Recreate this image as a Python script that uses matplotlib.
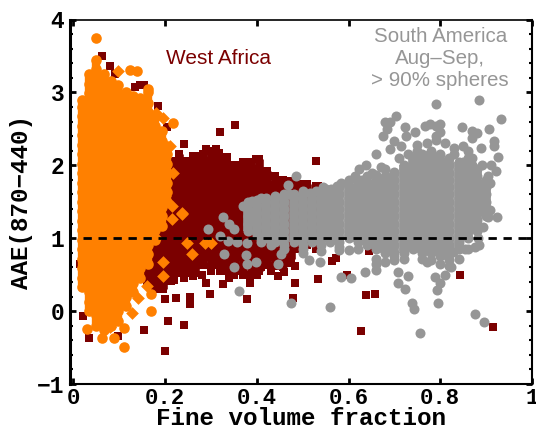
import matplotlib
matplotlib.use('Agg')
import numpy as np
import matplotlib.pyplot as plt
from matplotlib.ticker import MultipleLocator, FixedLocator

MAROON = '#7b0000'
ORANGE = '#ff8000'
GRAY = '#969696'

# maroon squares, solid part, one list per column
maroon_cols = [0.16, 0.178, 0.195, 0.212, 0.23, 0.248, 0.265, 0.282, 0.30, 0.318, 0.335,
               0.352, 0.37, 0.388, 0.405, 0.422, 0.44, 0.458, 0.475, 0.492, 0.51, 0.528]
maroon_rows = [
    [0.41, 0.52, 0.63, 0.74, 0.85, 0.96, 1.07, 1.18],
    [0.3, 0.41, 0.52, 0.63, 0.74, 0.85, 0.96, 1.07, 1.18, 1.29, 1.4, 1.51],
    [0.3, 0.41, 0.52, 0.63, 0.74, 0.85, 0.96, 1.07, 1.18, 1.29, 1.4, 1.51, 1.62, 1.73, 1.84, 1.95, 2.06],
    [0.41, 0.52, 0.63, 0.74, 0.85, 0.96, 1.07, 1.18, 1.29, 1.4, 1.51, 1.62, 1.73, 1.84, 1.95, 2.06],
    [0.52, 0.63, 0.74, 0.85, 0.96, 1.07, 1.18, 1.29, 1.4, 1.51, 1.62, 1.73, 1.84, 1.95, 2.04, 2.15],
    [0.52, 0.63, 0.74, 0.85, 0.96, 1.07, 1.18, 1.29, 1.4, 1.51, 1.62, 1.73, 1.84, 1.95, 2.06],
    [0.52, 0.63, 0.74, 0.85, 0.96, 1.07, 1.18, 1.29, 1.4, 1.51, 1.62, 1.73, 1.84, 1.95, 2.06, 2.13],
    [0.63, 0.74, 0.85, 0.96, 1.07, 1.18, 1.29, 1.4, 1.51, 1.62, 1.73, 1.84, 1.95, 2.06, 2.16],
    [0.6, 0.74, 0.85, 0.96, 1.07, 1.18, 1.29, 1.4, 1.51, 1.62, 1.73, 1.84, 1.95, 2.06, 2.2],
    [0.63, 0.74, 0.85, 0.96, 1.07, 1.18, 1.29, 1.4, 1.51, 1.62, 1.73, 1.84, 1.95, 2.06, 2.17],
    [0.55, 0.63, 0.74, 0.85, 0.96, 1.07, 1.18, 1.29, 1.4, 1.51, 1.62, 1.73, 1.84, 1.95, 2.06],
    [0.55, 0.63, 0.74, 0.85, 0.96, 1.07, 1.18, 1.29, 1.4, 1.51, 1.62, 1.73, 1.84, 1.95, 2.0],
    [0.6, 0.74, 0.85, 0.96, 1.07, 1.18, 1.29, 1.4, 1.51, 1.62, 1.73, 1.84, 1.95, 2.05],
    [0.5, 0.63, 0.74, 0.85, 0.96, 1.07, 1.18, 1.29, 1.4, 1.51, 1.62, 1.73, 1.84, 1.95, 2.05],
    [0.55, 0.63, 0.74, 0.85, 0.96, 1.07, 1.18, 1.51, 1.62, 1.73, 1.84, 1.95, 2.08],
    [0.63, 0.74, 0.85, 0.96, 1.07, 1.51, 1.62, 1.73, 1.84, 1.92],
    [0.62, 0.74, 0.85, 0.96, 1.55, 1.62, 1.73, 1.85],
    [0.6, 0.74, 0.85, 0.96, 1.55, 1.62, 1.73, 1.8],
    [0.72, 0.85, 0.96, 1.55, 1.65, 1.78],
    [0.85, 0.96, 1.55, 1.65, 1.75],
    [0.9, 1.02, 1.55, 1.65, 1.74],
    [0.85, 1.0, 1.55, 1.72],
]
# scattered maroon squares
maroon_x = [0.24, 0.29, 0.31, 0.32, 0.353, 0.335, 0.398, 0.26, 0.53, 0.533,
            0.2, 0.223, 0.254, 0.254, 0.298, 0.29, 0.207, 0.242, 0.154, 0.2,
            0.327, 0.378, 0.385, 0.4, 0.26, 0.3, 0.35, 0.446, 0.483, 0.479,
            0.533, 0.483, 0.46, 0.563, 0.573, 0.597, 0.638, 0.657, 0.626, 0.843,
            0.915, 0.645, 0.034, 0.02, 0.097, 0.014, 0.062, 0.08, 0.09, 0.153,
            0.185, 0.203, 0.135, 0.145, 0.43, 0.47, 0.505,
            0.22, 0.24, 0.28, 0.32, 0.34, 0.37, 0.39, 0.41, 0.43, 0.45, 0.47, 0.33]
maroon_y = [2.29, 2.23, 2.22, 2.45, 2.55, 2.12, 2.09, 2.13, 2.06, 1.72,
            0.16, 0.18, 0.2, 0.1, 0.23, 0.38, -0.13, -0.19, -0.26, -0.55,
            0.37, 0.16, 0.39, 0.5, 0.48, 0.55, 0.5, 0.48, 0.39, 0.18,
            0.44, 0.62, 0.54, 0.69, 0.73, 0.5, 0.22, 0.24, -0.27, 0.49,
            -0.22, 0.82, -0.37, -0.07, -0.34, 0.64, 3.5, 3.36, 3.25, 3.1,
            2.81, 2.52, 3.08, 3.1, 1.85, 1.78, 1.74,
            0.42, 0.45, 0.5, 0.55, 0.45, 0.5, 0.55, 0.6, 0.55, 0.62, 0.66, 0.62]

# orange circles, solid part, one list per column
orange_cols = [0.018, 0.034, 0.05, 0.066, 0.082, 0.098, 0.114, 0.13, 0.146, 0.162, 0.178, 0.194, 0.205]
orange_rows = [
    [0.33, 0.46, 0.59, 0.72, 0.85, 0.98, 1.11, 1.24, 1.37, 1.5, 1.63, 1.76, 1.89, 2.02, 2.15, 2.28, 2.41, 2.54, 2.67, 2.8, 2.9],
    [0.0, 0.13, 0.26, 0.39, 0.52, 0.65, 0.78, 0.91, 1.04, 1.17, 1.3, 1.43, 1.56, 1.69, 1.82, 1.95, 2.08, 2.21, 2.34, 2.47, 2.6, 2.73, 2.86, 2.99, 3.12, 3.25],
    [-0.2, -0.06, 0.07, 0.2, 0.33, 0.46, 0.59, 0.72, 0.85, 0.98, 1.11, 1.24, 1.37, 1.5, 1.63, 1.76, 1.89, 2.02, 2.15, 2.28, 2.41, 2.54, 2.67, 2.8, 2.93, 3.06, 3.19, 3.32, 3.45],
    [-0.26, -0.13, 0.0, 0.13, 0.26, 0.39, 0.52, 0.65, 0.78, 0.91, 1.04, 1.17, 1.3, 1.43, 1.56, 1.69, 1.82, 1.95, 2.08, 2.21, 2.34, 2.47, 2.6, 2.73, 2.86, 2.99, 3.12, 3.25],
    [-0.2, -0.06, 0.07, 0.2, 0.33, 0.46, 0.59, 0.72, 0.85, 0.98, 1.11, 1.24, 1.37, 1.5, 1.63, 1.76, 1.89, 2.02, 2.15, 2.28, 2.41, 2.54, 2.67, 2.8, 2.93, 3.06, 3.15],
    [-0.13, 0.0, 0.13, 0.26, 0.39, 0.52, 0.65, 0.78, 0.91, 1.04, 1.17, 1.3, 1.43, 1.56, 1.69, 1.82, 1.95, 2.08, 2.21, 2.34, 2.47, 2.6, 2.73, 2.86, 2.99, 3.1],
    [0.07, 0.2, 0.33, 0.46, 0.59, 0.72, 0.85, 0.98, 1.11, 1.24, 1.37, 1.5, 1.63, 1.76, 1.89, 2.02, 2.15, 2.28, 2.41, 2.54, 2.67, 2.8, 2.93, 3.0],
    [0.26, 0.39, 0.52, 0.65, 0.78, 0.91, 1.04, 1.17, 1.3, 1.43, 1.56, 1.69, 1.82, 1.95, 2.08, 2.21, 2.34, 2.47, 2.6, 2.73, 2.86, 2.95],
    [0.46, 0.59, 0.72, 0.85, 0.98, 1.11, 1.24, 1.37, 1.5, 1.63, 1.76, 1.89, 2.02, 2.15, 2.28, 2.41, 2.54, 2.67, 2.8, 2.93],
    [0.65, 0.78, 0.91, 1.04, 1.17, 1.3, 1.43, 1.56, 1.69, 1.82, 1.95, 2.08, 2.21, 2.34, 2.47, 2.6, 2.73, 2.86, 3.0],
    [0.98, 1.11, 1.24, 1.37, 1.5, 1.63, 1.76, 1.89, 2.02, 2.15, 2.28, 2.41, 2.54, 2.66],
    [1.17, 1.3, 1.43, 1.56, 1.69, 1.82, 1.95, 2.08, 2.21, 2.34, 2.47],
    [1.5, 1.63, 1.76, 1.89, 2.02, 2.15, 2.26],
]
# scattered orange circles and diamonds
orange_circ_x = [0.05, 0.123, 0.138, 0.163, 0.217, 0.17, 0.11, 0.088, 0.062, 0.03, 0.11, 0.17]
orange_circ_y = [3.75, 3.31, 3.29, 3.04, 2.58, 0.0, -0.49, -0.37, -0.37, -0.25, -0.23, 0.23]
orange_dia_x = [0.097, 0.18, 0.195, 0.21, 0.217, 0.2, 0.215, 0.236, 0.215, 0.237,
                0.18, 0.247, 0.258, 0.287, 0.30, 0.195, 0.195, 0.16, 0.14, 0.127, 0.08]
orange_dia_y = [3.29, 2.72, 2.65, 2.26, 1.9, 1.58, 1.44, 1.35, 1.26, 1.33,
                1.0, 0.93, 0.78, 0.94, 0.94, 0.68, 0.48, 0.35, 0.18, -0.02, -0.22]

# gray circles, solid part, one list per column
gray_cols = [0.38, 0.40, 0.42, 0.44, 0.46, 0.48, 0.50, 0.52, 0.54, 0.56, 0.58, 0.60, 0.62, 0.64,
             0.66, 0.68, 0.70, 0.72, 0.74, 0.76, 0.78, 0.80, 0.82, 0.84, 0.86, 0.88, 0.90]
gray_rows = [
    [1.1, 1.2, 1.3, 1.4, 1.5],
    [1.05, 1.15, 1.25, 1.35, 1.45, 1.52],
    [1.0, 1.1, 1.2, 1.3, 1.4, 1.5, 1.55],
    [0.95, 1.05, 1.15, 1.25, 1.35, 1.45, 1.55],
    [0.9, 1.0, 1.1, 1.2, 1.3, 1.4, 1.5, 1.6],
    [0.95, 1.05, 1.15, 1.25, 1.35, 1.45, 1.55, 1.6],
    [0.9, 1.0, 1.1, 1.2, 1.3, 1.4, 1.5, 1.6],
    [0.95, 1.05, 1.15, 1.25, 1.35, 1.45, 1.55],
    [0.9, 1.0, 1.1, 1.2, 1.3, 1.4, 1.5, 1.6],
    [0.95, 1.05, 1.15, 1.25, 1.35, 1.45, 1.55, 1.62],
    [0.95, 1.0, 1.1, 1.2, 1.3, 1.4, 1.5, 1.6, 1.7],
    [1.0, 1.05, 1.15, 1.25, 1.35, 1.45, 1.55, 1.65, 1.72],
    [0.95, 1.0, 1.1, 1.2, 1.3, 1.4, 1.5, 1.6, 1.7, 1.8],
    [0.9, 0.95, 1.05, 1.15, 1.25, 1.35, 1.45, 1.55, 1.65, 1.75, 1.85],
    [0.85, 0.9, 1.0, 1.1, 1.2, 1.3, 1.4, 1.5, 1.6, 1.7, 1.8],
    [0.8, 0.85, 0.95, 1.05, 1.15, 1.25, 1.35, 1.45, 1.55, 1.65, 1.75, 1.85],
    [0.75, 0.8, 0.9, 1.0, 1.1, 1.2, 1.3, 1.4, 1.5, 1.6, 1.7, 1.8, 1.9],
    [0.8, 0.85, 0.95, 1.05, 1.15, 1.25, 1.35, 1.45, 1.55, 1.65, 1.75, 1.85, 1.95, 2.0],
    [0.85, 0.9, 1.0, 1.1, 1.2, 1.3, 1.4, 1.5, 1.6, 1.7, 1.8, 1.9, 2.0, 2.1],
    [0.8, 0.85, 0.95, 1.05, 1.15, 1.25, 1.35, 1.45, 1.55, 1.65, 1.75, 1.85, 1.95, 2.05, 2.15],
    [0.8, 0.9, 1.0, 1.1, 1.2, 1.3, 1.4, 1.5, 1.6, 1.7, 1.8, 1.9, 2.0, 2.1, 2.2],
    [0.75, 0.85, 0.95, 1.05, 1.15, 1.25, 1.35, 1.45, 1.55, 1.65, 1.75, 1.85, 1.95, 2.05, 2.15],
    [0.7, 0.8, 0.9, 1.0, 1.1, 1.2, 1.3, 1.4, 1.5, 1.6, 1.7, 1.8, 1.9, 2.0, 2.1],
    [0.85, 0.95, 1.05, 1.15, 1.25, 1.35, 1.45, 1.55, 1.65, 1.75, 1.85, 1.95, 2.05],
    [1.0, 1.1, 1.2, 1.3, 1.4, 1.5, 1.6, 1.7, 1.8, 1.9, 2.0, 2.1],
    [1.1, 1.15, 1.25, 1.35, 1.45, 1.55, 1.65, 1.75, 1.85, 1.95],
    [1.3, 1.4, 1.5, 1.6, 1.7, 1.8],
]
# scattered gray circles
gray_x = [0.791, 0.884, 0.933, 0.704, 0.69, 0.68, 0.684, 0.675, 0.723, 0.725,
          0.745, 0.766, 0.777, 0.80, 0.79, 0.80, 0.848, 0.869, 0.88, 0.906,
          0.87, 0.917, 0.889, 0.85, 0.917, 0.926, 0.921, 0.908, 0.889, 0.908,
          0.699, 0.69, 0.714, 0.66, 0.638, 0.622, 0.67, 0.70, 0.66, 0.614,
          0.583, 0.562, 0.544, 0.485, 0.468, 0.516, 0.75, 0.79, 0.83, 0.87,
          0.293, 0.327, 0.32, 0.337, 0.328, 0.35, 0.361, 0.398, 0.378, 0.376,
          0.356, 0.378, 0.389, 0.34, 0.35, 0.395, 0.389, 0.37,
          0.453, 0.446, 0.475, 0.56, 0.538, 0.514, 0.583, 0.605, 0.636, 0.66,
          0.66, 0.708, 0.723, 0.73, 0.708, 0.738, 0.743, 0.755, 0.795, 0.793,
          0.799, 0.789, 0.875, 0.895, 0.828, 0.854, 0.875, 0.885, 0.883, 0.893,
          0.905, 0.923, 0.77, 0.81, 0.824, 0.6, 0.58, 0.5,
          0.71, 0.73, 0.75, 0.77, 0.79, 0.81, 0.83, 0.85, 0.87, 0.89,
          0.91, 0.905, 0.895, 0.86, 0.68, 0.65, 0.63, 0.6, 0.575, 0.55,
          0.53, 0.5, 0.47, 0.44, 0.41, 0.39,
          0.7, 0.72, 0.76, 0.78, 0.8, 0.82, 0.84, 0.86, 0.66, 0.68,
          0.62, 0.58, 0.54, 0.5, 0.46, 0.43, 0.41]
gray_y = [2.84, 2.89, 2.63, 2.67, 2.6, 2.6, 2.5, 2.4, 2.52, 2.4,
          2.45, 2.54, 2.56, 2.56, 2.54, 2.45, 2.53, 2.47, 2.44, 2.5,
          2.38, 2.33, 2.24, 2.26, 2.27, 2.11, 1.92, 1.76, 1.65, 1.38,
          2.33, 2.22, 2.26, 2.16, 2.0, 1.95, 1.97, 1.91, 1.87, 1.85,
          1.76, 1.67, 1.7, 1.85, 1.73, 1.62, 2.2, 2.35, 2.24, 2.1,
          1.12, 1.29, 1.03, 0.96, 0.79, 0.6, 0.27, 0.67, 0.64, 0.77,
          0.95, 0.93, 1.27, 1.2, 1.13, 1.33, 1.51, 1.44,
          0.79, 0.64, 0.11, 0.05, 0.68, 0.7, 0.47, 0.46, 0.53, 0.56,
          0.65, 0.39, 0.3, 0.48, 0.53, 0.11, 0.03, -0.3, 0.11, 0.29,
          0.39, 0.47, -0.04, -0.15, 0.81, 0.85, 0.88, 0.9, 1.0, 1.16,
          1.29, 1.29, 0.67, 0.5, 0.6, 0.84, 0.84, 0.8,
          2.1, 2.15, 2.28, 2.3, 2.4, 2.3, 2.15, 2.05, 2.0, 2.0,
          2.0, 1.85, 1.7, 2.2, 1.95, 1.9, 1.8, 1.8, 1.72, 1.68,
          1.65, 1.65, 1.6, 1.58, 1.55, 1.5,
          0.7, 0.72, 0.72, 0.7, 0.65, 0.62, 0.72, 0.85, 0.72, 0.68,
          0.85, 0.88, 0.82, 0.85, 0.85, 0.9, 0.95]


def flatten(cols, rows):
    xs = []
    ys = []
    for c, r in zip(cols, rows):
        xs += [c] * len(r)
        ys += r
    return xs, ys


def fill_columns(ax, cols, rows, color, width, z):
    # the markers overlap into a solid mass in the original, close the gaps between them
    lo = [min(r) for r in rows]
    hi = [max(r) for r in rows]
    ax.vlines(cols, lo, hi, colors=color, linewidths=width, capstyle='butt', zorder=z)


plt.rcParams['font.family'] = 'Liberation Mono'
fig = plt.figure(figsize=(5.36, 4.29), dpi=100)
ax = fig.add_axes([70 / 536, 1 - 384 / 429, 462 / 536, 364.5 / 429])

mx, my = flatten(maroon_cols, maroon_rows)
fill_columns(ax, maroon_cols, maroon_rows, MAROON, 6.2, 2)
ax.scatter(mx + maroon_x, my + maroon_y, marker='s', s=36, c=MAROON, linewidths=0, zorder=2)

ox, oy = flatten(orange_cols, orange_rows)
fill_columns(ax, orange_cols, orange_rows, ORANGE, 6.0, 3)
ax.scatter(ox + orange_circ_x, oy + orange_circ_y, marker='o', s=58, c=ORANGE, linewidths=0, zorder=3)
ax.scatter(orange_dia_x, orange_dia_y, marker='D', s=42, c=ORANGE, linewidths=0, zorder=3)

gx, gy = flatten(gray_cols, gray_rows)
fill_columns(ax, gray_cols, gray_rows, GRAY, 7.0, 4)
ax.scatter(gx + gray_x, gy + gray_y, marker='o', s=52, c=GRAY, linewidths=0, zorder=4)

ax.plot([0.02, 1.0], [1, 1], color='black', lw=2, dashes=(3, 2.4), zorder=5)

ax.set_xlim(-0.0076, 1.0)
ax.set_ylim(-1, 4)
ax.xaxis.set_major_locator(FixedLocator([0, 0.2, 0.4, 0.6, 0.8, 1.0]))
ax.set_xticklabels(['0', '0.2', '0.4', '0.6', '0.8', '1'])
ax.yaxis.set_minor_locator(MultipleLocator(0.2))
ax.yaxis.set_major_locator(FixedLocator([-1, 0, 1, 2, 3, 4]))
ax.set_yticklabels(['\u22121', '0', '1', '2', '3', '4'])

ax.tick_params(axis='x', which='major', direction='in', top=True, length=4, width=2, pad=3,
               labelsize=16)
ax.tick_params(axis='y', which='major', direction='in', right=True, length=4, width=2, pad=4,
               labelsize=16.5)
ax.tick_params(axis='y', which='minor', direction='in', right=True, length=2, width=1.5)
for lab in ax.get_xticklabels() + ax.get_yticklabels():
    lab.set_fontweight('bold')

ax.spines['left'].set_linewidth(2.2)
ax.spines['bottom'].set_linewidth(1.5)
ax.spines['top'].set_linewidth(1.2)
ax.spines['right'].set_linewidth(1.5)

ax.set_xlabel('Fine volume fraction', fontsize=17.5, fontweight='bold', labelpad=-1.5)
ax.set_ylabel('AAE(870\u2212440)', fontsize=17.5, fontweight='bold', labelpad=3)

ax.text(0.317, 3.47, 'West Africa', color=MAROON, fontsize=15, family='Liberation Sans',
        ha='center', va='center', zorder=6)
ax.text(0.8, 3.46, 'South America\nAug\u2013Sep,\n> 90% spheres', color=GRAY, fontsize=14.8,
        family='Liberation Sans', ha='center', va='center', linespacing=1.2, zorder=6)

fig.savefig('out.png', dpi=100)
